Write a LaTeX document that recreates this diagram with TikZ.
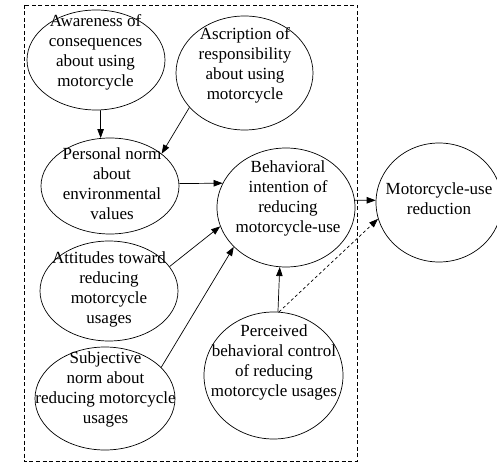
\documentclass[tikz,border=0pt]{standalone}
\usepackage{fontspec}
\setmainfont{Liberation Serif}
\usetikzlibrary{shapes.geometric,arrows.meta}
\begin{document}
\begin{tikzpicture}[x=1pt,y=-1pt,
  ell/.style={draw,ellipse,inner sep=0pt,line width=0.7pt},
  txt/.style={align=center,inner sep=0pt,font=\fontsize{17}{20}\selectfont},
  arr/.style={line width=0.7pt,-{Triangle[length=9pt,width=6.5pt]}},
  darr/.style={arr,dash pattern=on 3pt off 2.5pt},
  frame/.style={line width=0.7pt,dash pattern=on 4pt off 2.5pt}]
\useasboundingbox (0,0) rectangle (497,462);
\draw[frame] (24,5) rectangle (357,461);
% ellipses
\node[ell,minimum width=138pt,minimum height=100pt] (aw) at (96,60) {};
\node[ell,minimum width=137pt,minimum height=114pt] (as) at (244.5,73) {};
\node[ell,minimum width=138pt,minimum height=96pt] (pn) at (110,186) {};
\node[ell,minimum width=138pt,minimum height=119pt] (bi) at (286,207.5) {};
\node[ell,minimum width=126pt,minimum height=119pt] (mr) at (439,202.5) {};
\node[ell,minimum width=138pt,minimum height=100pt] (at) at (109,291) {};
\node[ell,minimum width=140pt,minimum height=103pt] (sn) at (105,398.5) {};
\node[ell,minimum width=139pt,minimum height=127pt] (pb) at (273.5,375.5) {};
% texts
\node[txt] (awt) at (95.5,52) {Awareness of\\consequences\\about using\\motorcycle};
\node[txt] (ast) at (245,65.5) {Ascription of\\responsibility\\about using\\motorcycle};
\node[txt] (pnt) at (112,183.5) {Personal norm\\about\\environmental\\values};
\node[txt] (bit) at (288,198.5) {Behavioral\\intention of\\reducing\\motorcycle-use};
\node[txt] (mrt) at (439,198.5) {Motorcycle-use\\reduction};
\node[txt] (att) at (109,289.5) {Attitudes toward\\reducing\\motorcycle\\usages};
\node[txt] (snt) at (105.5,389) {Subjective\\norm about\\reducing motorcycle\\usages};
\node[txt] (pbt) at (274,362.5) {Perceived\\behavioral control\\of reducing\\motorcycle usages};
% connectors
\draw[arr] (aw.-85.4) -- (pn.101.8);
\draw[arr] (as.212.7) -- (pn.32);
\draw[arr] (pn.2) -- (bi.159);
\draw[arr] (at.22) -- (bi.196.5);
\draw[arr] (sn.29.4) -- (bi.217);
\draw[arr] (pb.86.8) -- (bi.264.3);
\draw[arr] (bi.6) -- (mr.178);
\draw[darr] (pb.85) -- (mr.195.6);
\end{tikzpicture}
\end{document}
